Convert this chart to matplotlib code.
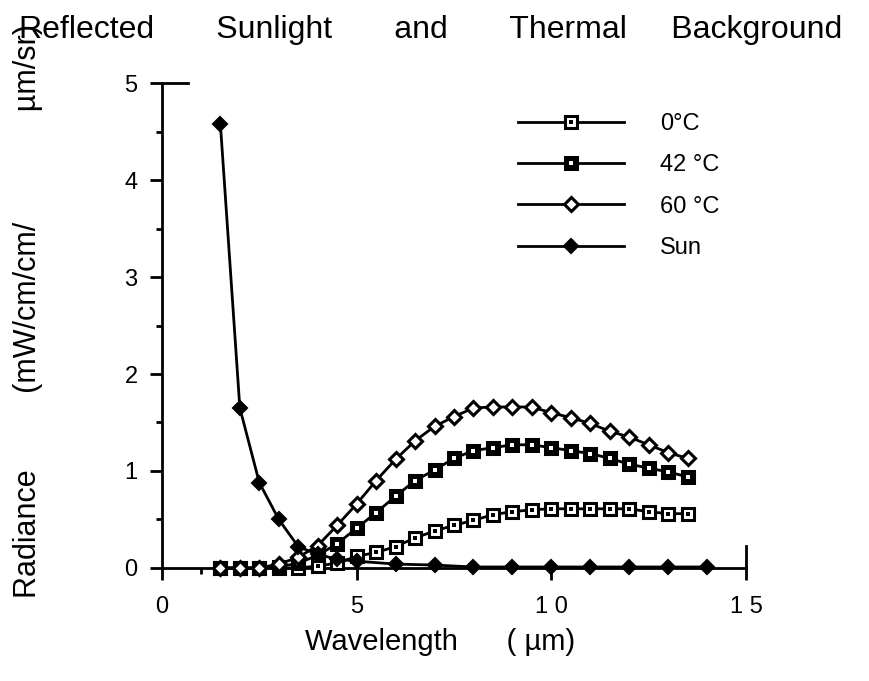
import matplotlib
import matplotlib.pyplot as plt

matplotlib.use("Agg")

plt.rcParams["font.family"] = ["Liberation Sans", "DejaVu Sans"]

# dados
wl_thermal = [1.5, 2, 2.5, 3, 3.5, 4, 4.5, 5, 5.5, 6, 6.5, 7, 7.5,
              8, 8.5, 9, 9.5, 10, 10.5, 11, 11.5, 12, 12.5, 13, 13.5]
rad_0c = [0.0, 0.0, 0.0, 0.0, 0.0, 0.02, 0.05, 0.12, 0.16, 0.22, 0.31, 0.38, 0.44,
          0.49, 0.55, 0.58, 0.60, 0.61, 0.61, 0.61, 0.61, 0.61, 0.58, 0.56, 0.56]
rad_42c = [0.0, 0.0, 0.0, 0.01, 0.05, 0.13, 0.25, 0.41, 0.57, 0.74, 0.90, 1.01, 1.13,
           1.21, 1.24, 1.27, 1.27, 1.24, 1.21, 1.18, 1.13, 1.07, 1.03, 0.99, 0.94]
rad_60c = [0.0, 0.0, 0.0, 0.04, 0.11, 0.23, 0.44, 0.66, 0.90, 1.12, 1.31, 1.46, 1.56,
           1.65, 1.66, 1.66, 1.66, 1.60, 1.55, 1.49, 1.41, 1.35, 1.27, 1.19, 1.13]
wl_sun = [1.5, 2, 2.5, 3, 3.5, 4, 4.5, 5, 6, 7, 8, 9, 10, 11, 12, 13, 14]
rad_sun = [4.58, 1.65, 0.88, 0.50, 0.22, 0.14, 0.09, 0.07, 0.04, 0.03,
           0.01, 0.01, 0.01, 0.01, 0.01, 0.01, 0.01]

fig = plt.figure(figsize=(8.69, 6.81), dpi=100)
ax = fig.add_axes([0.1864, 0.166, 0.672, 0.712])

lw = 2.0
l0, = ax.plot(wl_thermal, rad_0c, color="black", lw=lw, marker="s", ms=8.5,
              mfc="white", mec="black", mew=2.2, clip_on=False, zorder=3)
d0, = ax.plot(wl_thermal, rad_0c, ls="none", marker="s", ms=2.8,
              mfc="black", mec="black", mew=0, clip_on=False, zorder=3)
l42, = ax.plot(wl_thermal, rad_42c, color="black", lw=lw, marker="s", ms=8.5,
               mfc="black", mec="black", mew=2.2, clip_on=False, zorder=4)
d42, = ax.plot(wl_thermal, rad_42c, ls="none", marker="s", ms=2.8,
               mfc="white", mec="white", mew=0, clip_on=False, zorder=4)
l60, = ax.plot(wl_thermal, rad_60c, color="black", lw=lw, marker="D", ms=7,
               mfc="white", mec="black", mew=2.2, clip_on=False, zorder=5)
lsun, = ax.plot(wl_sun, rad_sun, color="black", lw=lw, marker="D", ms=7,
                mfc="black", mec="black", mew=1.5, clip_on=False, zorder=6)

ax.set_xlim(0, 15)
ax.set_ylim(0, 5)
ax.set_xticks([0, 5, 10, 15])
ax.set_xticklabels(["0", "5", "1 0", "1 5"])
ax.set_xticks([1], minor=True)
ax.set_yticks([0, 1, 2, 3, 4, 5])
ax.set_yticks([0.5, 1.5, 2.5, 3.5, 4.5], minor=True)

for side in ["top", "right"]:
    ax.spines[side].set_visible(False)
for side in ["left", "bottom"]:
    ax.spines[side].set_linewidth(2)

ax.tick_params(axis="both", which="major", direction="out", length=8.5, width=2,
               labelsize=17)
ax.tick_params(axis="x", which="major", pad=12)
ax.tick_params(axis="y", which="major", pad=9)
ax.tick_params(axis="both", which="minor", direction="out", length=4.5, width=2)

# marcas nas extremidades dos eixos
ax.plot([0, 0.045], [1, 1], transform=ax.transAxes, color="black", lw=2, clip_on=False)
ax.plot([1, 1], [0, 0.045], transform=ax.transAxes, color="black", lw=2, clip_on=False)

fig.text(0.506, 0.058, "Wavelength      ( µm)", fontsize=21, ha="center", va="center")
fig.text(0.032, 0.544, "Radiance         (mW/cm/cm/             µm/sr)", rotation=90,
         fontsize=22, ha="center", va="center")
fig.text(0.496, 0.956,
         "Reflected       Sunlight       and       Thermal     Background",
         fontsize=23, ha="center", va="center")

ax.legend([(l0, d0), (l42, d42), l60, lsun], ["0°C", "42 °C", "60 °C", "Sun"],
          loc="upper left", bbox_to_anchor=(518 / 869, 1 - 113 / 681),
          bbox_transform=fig.transFigure, frameon=False, fontsize=17,
          handlelength=4.5, handletextpad=1.5, labelspacing=0.82,
          borderpad=0, borderaxespad=0, numpoints=1)

plt.savefig("out.png", dpi=100)
plt.close(fig)
